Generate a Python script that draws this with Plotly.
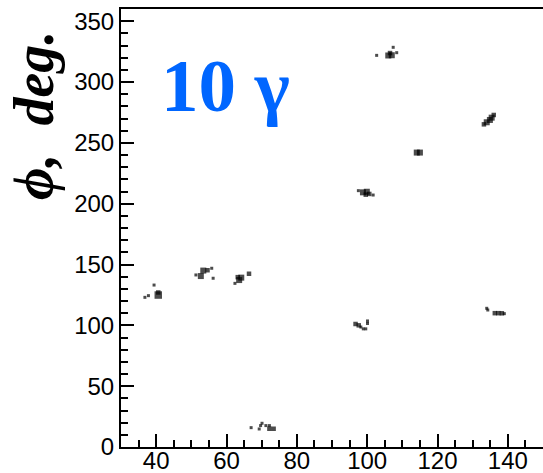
import plotly.graph_objects as go

# Hit positions (theta in deg, phi in deg) and bin counts
theta_deg = [
    36.8, 37.8, 39.4, 40.6, 40.6,
    51.3, 52.7, 53.4, 54.6, 55.8, 56.2,
    62.4, 63.6, 64.2, 63.2, 66.4,
    67.0, 69.3, 69.7, 70.1, 71.2, 72.2, 72.2, 73.4,
    96.7, 97.6, 98.2, 98.9, 99.6, 100.1, 100.1,
    97.5, 98.8, 99.9, 100.6, 99.6, 101.7,
    102.7, 106.0, 107.0, 106.5, 107.4, 108.4,
    114.1, 115.0,
    133.2, 134.0, 134.9, 135.4, 136.0,
    134.0, 134.3, 136.3, 137.3, 138.3, 139.0,
]
phi_deg = [
    123.0, 124.4, 133.1, 124.9, 127.0,
    141.4, 140.5, 145.0, 145.3, 146.9, 138.7,
    134.5, 137.2, 139.2, 139.6, 142.4,
    15.9, 14.8, 17.6, 19.5, 17.6, 17.6, 15.0, 15.0,
    101.1, 100.0, 98.6, 97.1, 97.1, 103.6, 101.5,
    210.7, 209.3, 209.8, 208.0, 207.4, 207.1,
    321.9, 321.8, 322.0, 323.8, 328.5, 324.1,
    242.0, 242.0,
    265.2, 266.9, 268.8, 270.7, 272.9,
    114.0, 112.6, 110.0, 110.0, 109.9, 109.6,
]
counts = [
    1, 1, 1, 4, 2,
    1, 3, 3, 2, 1, 1,
    1, 3, 3, 2, 2,
    1, 1, 1, 1, 1, 1, 2, 2,
    2, 2, 1, 1, 1, 1, 1,
    1, 3, 3, 2, 2, 1,
    1, 3, 3, 2, 1, 1,
    3, 3,
    2, 3, 3, 3, 2,
    1, 1, 2, 2, 2, 1,
]

x_ticks = [40, 60, 80, 100, 120, 140]
y_ticks = [0, 50, 100, 150, 200, 250, 300, 350]
label_text = "10 γ"
y_title = "ϕ,\u00a0\u00a0deg."

size_map = {1: 3, 2: 4.5, 3: 6, 4: 7.5}
sizes = [size_map[c] for c in counts]

fig = go.Figure()
fig.add_trace(go.Scatter(
    x=theta_deg, y=phi_deg, mode="markers",
    marker=dict(symbol="square", size=sizes, color="black", line=dict(width=0)),
    showlegend=False, hoverinfo="skip",
))

fig.update_layout(
    width=543, height=473,
    margin=dict(l=121, r=0, t=9, b=26),
    paper_bgcolor="white", plot_bgcolor="white",
    font=dict(family="Liberation Sans, Arial, sans-serif", size=24, color="black"),
)
fig.update_xaxes(
    range=[30, 150], showgrid=False, zeroline=False, automargin=False,
    showline=True, linecolor="black", linewidth=2, mirror=True,
    ticks="inside", ticklen=13, tickwidth=1.5, tickcolor="black",
    tickvals=x_ticks, ticktext=[str(v) for v in x_ticks],
    minor=dict(dtick=5, tick0=0, ticks="inside", ticklen=7, tickwidth=1.5, tickcolor="black"),
    tickfont=dict(size=24), ticklabelstandoff=-9,
)
fig.update_yaxes(
    range=[0, 360], showgrid=False, zeroline=False, automargin=False,
    showline=True, linecolor="black", linewidth=2, mirror=False,
    ticks="inside", ticklen=13, tickwidth=1.5, tickcolor="black",
    tickvals=y_ticks, ticktext=[str(v) for v in y_ticks],
    minor=dict(dtick=10, tick0=0, ticks="inside", ticklen=7, tickwidth=1.5, tickcolor="black"),
    tickfont=dict(size=24),
)

fig.add_annotation(
    text="<b><i>" + y_title + "</i></b>",
    textangle=-90,
    xref="paper", yref="paper", x=-0.205, y=0.757,
    showarrow=False, font=dict(family="Liberation Serif, Times New Roman, serif", size=56, color="black"),
    xanchor="center", yanchor="middle",
)
fig.add_annotation(
    text="<b>" + label_text + "</b>",
    xref="paper", yref="paper", x=0.09, y=0.826,
    showarrow=False, font=dict(family="Liberation Serif, Times New Roman, serif", size=75, color="#0066ff"),
    xanchor="left", yanchor="middle",
)

fig.write_html("out.html", config={"displayModeBar": False},
               post_script="document.body.style.margin='0';")
